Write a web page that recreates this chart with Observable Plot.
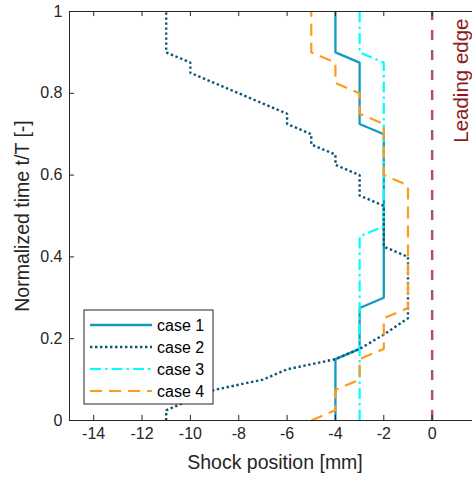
<!DOCTYPE html>
<html><head><meta charset="utf-8">
<script src="https://cdn.jsdelivr.net/npm/d3@7"></script>
<script src="https://cdn.jsdelivr.net/npm/@observablehq/plot@0.6"></script>
<style>
body{margin:0;background:#fff;}
#chart{position:relative;width:472px;height:479px;overflow:hidden;}
</style>
</head><body><div id="chart"></div>
<script>
// ---- data ----
const caseNames = ["case 1", "case 2", "case 3", "case 4"];
const case1Pos  = [-4, -4, -3, -3, -2, -2, -3, -3, -4, -4];
const case1Time = [0, 0.15, 0.175, 0.275, 0.3, 0.7, 0.725, 0.875, 0.9, 1];
const case2Pos  = [-11, -11, -10, -9, -7, -6, -4, -3, -2, -1, -1, -2, -2, -3, -3, -4, -4, -5, -5, -6, -6, -7, -8, -9, -10, -10, -11, -11];
const case2Time = [0, 0.025, 0.05, 0.075, 0.1, 0.125, 0.15, 0.175, 0.21, 0.25, 0.4, 0.425, 0.525, 0.55, 0.6, 0.625, 0.65, 0.675, 0.7, 0.725, 0.75, 0.775, 0.8, 0.825, 0.85, 0.875, 0.9, 1];
const case3Pos  = [-3, -3, -2, -2, -3, -3];
const case3Time = [0, 0.45, 0.475, 0.875, 0.9, 1];
const case4Pos  = [-5, -4, -4, -3, -3, -2, -2, -1, -1, -2, -2, -3, -3, -4, -4, -5, -5];
const case4Time = [0, 0.025, 0.075, 0.1, 0.15, 0.175, 0.25, 0.275, 0.575, 0.6, 0.725, 0.75, 0.8, 0.825, 0.875, 0.9, 1];
const leadingEdge = [0];
const xTicks = [-14, -12, -10, -8, -6, -4, -2, 0];
const yTicks = [0, 0.2, 0.4, 0.6, 0.8, 1];
const xLabel = "Shock position [mm]";
const yLabel = "Normalized time t/T [-]";
const edgeLabel = "Leading edge";

// ---- styles ----
const styles = [
  {color: "#139bbf", dash: null,            width: 2.3},
  {color: "#0b5577", dash: "2.4,2.6",       width: 2.4},
  {color: "#00ffff", dash: "11,4,2.5,4",    width: 2.2},
  {color: "#ff9a1a", dash: "12,7",          width: 2.2}
];
const toRows = (p, t) => p.map((v, i) => ({x: v, t: t[i]}));
const series = [toRows(case1Pos, case1Time), toRows(case2Pos, case2Time), toRows(case3Pos, case3Time), toRows(case4Pos, case4Time)];
const axisColor = "#262626";
const font = "'Liberation Sans', Arial, sans-serif";
const drawOrder = [0, 2, 1, 3];

const lineMarks = drawOrder.map(i => Plot.line(series[i], {
  x: "x", y: "t", stroke: styles[i].color, strokeWidth: styles[i].width,
  strokeDasharray: styles[i].dash ?? undefined, strokeLinejoin: "miter", strokeLinecap: "butt"
}));

const chart = Plot.plot({
  width: 472, height: 479,
  marginLeft: 69, marginTop: 11, marginBottom: 59, marginRight: 0,
  x: {domain: [-15, 2], range: [69, 480]},
  y: {domain: [0, 1], range: [420, 11]},
  style: {fontFamily: font, color: axisColor, background: "white", overflow: "hidden"},
  marks: [
    Plot.ruleX(leadingEdge, {x: d => d, y1: 0, y2: 1, stroke: "#b05558", strokeWidth: 2.5, strokeDasharray: "10,10"}),
    ...lineMarks,
    // frame (box)
    Plot.ruleY([0, 1], {y: d => d, x1: -15, x2: 2, stroke: axisColor, strokeWidth: 1}),
    Plot.ruleX([-15], {x: d => d, y1: 0, y2: 1, stroke: axisColor, strokeWidth: 1}),
    // inward ticks
    Plot.ruleX(xTicks, {x: d => d, y1: 0, y2: 0.0125, stroke: axisColor}),
    Plot.ruleX(xTicks, {x: d => d, y1: 0.9875, y2: 1, stroke: axisColor}),
    Plot.ruleY(yTicks, {y: d => d, x1: -15, x2: -14.79, stroke: axisColor}),
    Plot.axisX(xTicks, {tickSize: 0, tickPadding: 7, fontSize: 16, tickFormat: d => String(d), label: null, fill: axisColor}),
    Plot.axisY(yTicks, {tickSize: 0, tickPadding: 7, fontSize: 16, tickFormat: d => String(d), label: null, fill: axisColor}),
    Plot.text([xLabel], {frameAnchor: "bottom", textAnchor: "middle", dx: 4, dy: 48, fontSize: 19.5, fill: axisColor, text: d => d}),
    Plot.text([yLabel], {frameAnchor: "left", textAnchor: "middle", rotate: -90, dx: -47, fontSize: 19.5, fill: axisColor, text: d => d}),
    Plot.text([edgeLabel], {x: leadingEdge, frameAnchor: "top", rotate: -90, textAnchor: "end", dx: 21, dy: 7, fontSize: 20.5, fill: "#8e1b1b", text: d => d})
  ]
});
document.getElementById("chart").appendChild(chart);

// ---- legend (inside the axes, lower-left) ----
const svg = d3.select(chart);
const lg = svg.append("g").attr("transform", "translate(84,310)");
lg.append("rect").attr("width", 129).attr("height", 94).attr("fill", "white").attr("stroke", axisColor).attr("stroke-width", 1);
caseNames.forEach((name, i) => {
  const yy = 15 + i * 22;
  lg.append("line").attr("x1", 6).attr("x2", 68).attr("y1", yy).attr("y2", yy)
    .attr("stroke", styles[i].color).attr("stroke-width", styles[i].width)
    .attr("stroke-dasharray", styles[i].dash);
  lg.append("text").attr("x", 73).attr("y", yy).attr("dy", "0.35em")
    .attr("text-anchor", "start")
    .attr("font-size", 16).attr("fill", "#000").attr("font-family", font).text(name);
});
</script>
</body></html>
